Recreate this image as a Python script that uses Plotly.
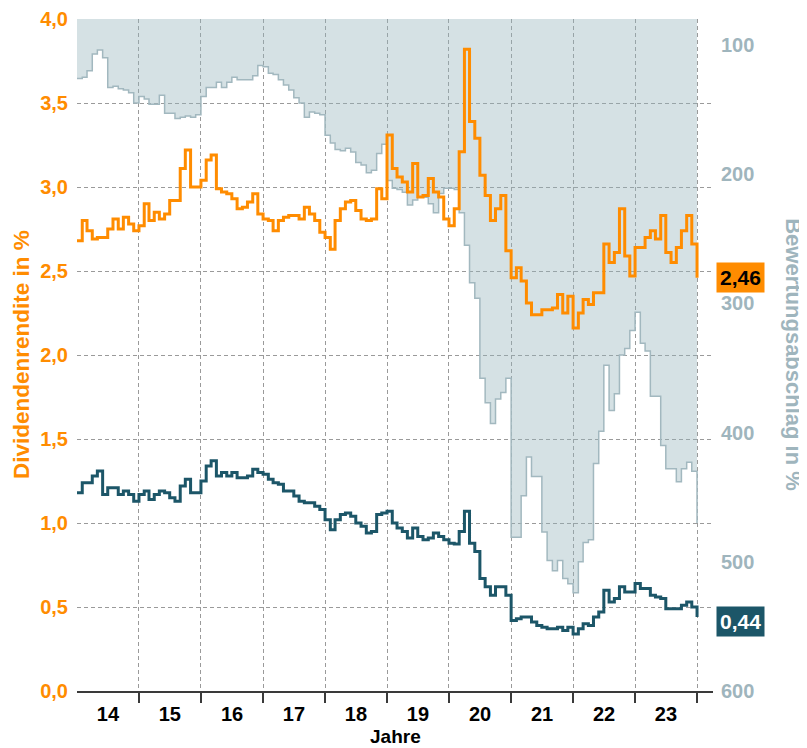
import plotly.graph_objects as go
import pandas as pd

# ---------------- data (monthly, Jan 2014 .. Jan 2024) ----------------
start_month = "2014-01-01"
n_months = 121

dividend_yield_orange = [
    2.68, 2.80, 2.74, 2.69, 2.70, 2.70, 2.75, 2.81, 2.75, 2.82, 2.78, 2.74,
    2.77, 2.90, 2.80, 2.85, 2.81, 2.84, 2.92, 2.92, 3.11, 3.22, 3.00, 3.00,
    3.04, 3.16, 3.19, 2.99, 2.97, 2.96, 2.93, 2.87, 2.88, 2.91, 2.96, 2.84,
    2.81, 2.80, 2.74, 2.80, 2.82, 2.83, 2.83, 2.81, 2.88, 2.84, 2.80, 2.73,
    2.70, 2.63, 2.80, 2.87, 2.91, 2.92, 2.86, 2.81, 2.80, 2.81, 2.99, 2.93,
    3.31, 3.11, 3.06, 3.03, 2.97, 3.14, 2.94, 2.95, 3.05, 2.97, 2.94, 2.81,
    2.77, 2.87, 3.21, 3.82, 3.39, 3.29, 3.07, 2.95, 2.80, 2.87, 2.95, 2.62,
    2.46, 2.52, 2.44, 2.31, 2.24, 2.24, 2.27, 2.27, 2.28, 2.36, 2.25, 2.35,
    2.16, 2.25, 2.33, 2.30, 2.37, 2.37, 2.66, 2.55, 2.61, 2.87, 2.59, 2.47,
    2.64, 2.64, 2.70, 2.74, 2.69, 2.83, 2.61, 2.55, 2.64, 2.74, 2.83, 2.66,
    2.46,
]

dividend_yield_teal = [
    1.18, 1.24, 1.24, 1.28, 1.31, 1.17, 1.21, 1.21, 1.17, 1.19, 1.17, 1.13,
    1.17, 1.19, 1.14, 1.17, 1.19, 1.18, 1.15, 1.13, 1.22, 1.26, 1.18, 1.18,
    1.25, 1.34, 1.37, 1.28, 1.30, 1.28, 1.30, 1.27, 1.27, 1.28, 1.32, 1.30,
    1.29, 1.26, 1.24, 1.23, 1.19, 1.19, 1.16, 1.13, 1.12, 1.12, 1.10, 1.08,
    1.02, 0.96, 1.02, 1.05, 1.06, 1.04, 1.00, 0.98, 0.94, 0.95, 1.05, 1.06,
    1.07, 1.00, 0.97, 0.95, 0.91, 0.97, 0.92, 0.90, 0.91, 0.94, 0.92, 0.90,
    0.88, 0.875, 0.95, 1.07, 0.88, 0.83, 0.67, 0.62, 0.57, 0.62, 0.62, 0.57,
    0.42, 0.43, 0.44, 0.44, 0.41, 0.39, 0.38, 0.37, 0.37, 0.38, 0.36, 0.38,
    0.34, 0.37, 0.40, 0.39, 0.44, 0.47, 0.60, 0.53, 0.55, 0.62, 0.59, 0.59,
    0.64, 0.61, 0.61, 0.57, 0.56, 0.55, 0.49, 0.49, 0.49, 0.51, 0.53, 0.50,
    0.44,
]

valuation_discount = [
    126, 125, 120, 107, 104, 110, 133, 132, 134, 135, 137, 145,
    140, 142, 146, 146, 139, 153, 153, 157, 156, 155, 156, 154,
    140, 133, 133, 129, 133, 129, 125, 127, 127, 127, 124, 116,
    117, 122, 123, 127, 131, 135, 141, 145, 156, 152, 153, 154,
    170, 176, 181, 182, 180, 183, 191, 193, 199, 197, 184, 177,
    205, 211, 212, 214, 224, 220, 218, 218, 223, 230, 215, 211,
    211, 212, 230, 255, 284, 296, 358, 377, 393, 374, 369, 358,
    481, 481, 449, 419, 434, 434, 477, 499, 507, 499, 513, 517,
    524, 500, 485, 483, 424, 399, 348, 383, 370, 340, 335, 321,
    307, 331, 337, 372, 372, 410, 428, 428, 438, 428, 423, 430,
    470,
]

year_labels = ["14", "15", "16", "17", "18", "19", "20", "21", "22", "23"]
left_ticks = [0.0, 0.5, 1.0, 1.5, 2.0, 2.5, 3.0, 3.5, 4.0]
right_ticks = [100, 200, 300, 400, 500, 600]

# ---------------- styling ----------------
ORANGE = "#ff8c00"
TEAL = "#1c5668"
GREY_LINE = "#a2b8bf"
GREY_FILL = "rgba(150,180,188,0.40)"
GREY_TEXT = "#9fb5bd"
GRID = "#9a9a9a"
FONT = "Liberation Sans, Arial, sans-serif"

months = pd.date_range(start_month, periods=n_months, freq="MS")
first_year = int(start_month[:4])
label_pos = [pd.Timestamp(f"{first_year + i}-07-02") for i in range(len(year_labels))]
year_bounds = [pd.Timestamp(f"{first_year + i}-01-01") for i in range(1, len(year_labels) + 1)]

fig = go.Figure()

# Valuation discount: grey filled area (main y axis, right side, reversed)
fig.add_trace(go.Scatter(
    x=months, y=valuation_discount, mode="lines",
    line=dict(color=GREY_LINE, width=1.5, shape="hv"),
    fill="tozeroy", fillcolor=GREY_FILL,
    yaxis="y", hoverinfo="skip", showlegend=False,
))

# Dividend yields (overlay axis, left side)
fig.add_trace(go.Scatter(
    x=months, y=dividend_yield_orange, mode="lines",
    line=dict(color=ORANGE, width=3, shape="hv"),
    yaxis="y2", showlegend=False,
))
fig.add_trace(go.Scatter(
    x=months, y=dividend_yield_teal, mode="lines",
    line=dict(color=TEAL, width=3, shape="hv"),
    yaxis="y2", showlegend=False,
))

fig.update_layout(
    width=799, height=740,
    margin=dict(l=69, r=94, t=11, b=57, autoexpand=False),
    paper_bgcolor="white", plot_bgcolor="white",
    separators=",.",
    font=dict(family=FONT, size=19, color="black"),
    showlegend=False,
    xaxis=dict(
        type="date",
        range=[pd.Timestamp(start_month), pd.Timestamp("2024-04-04")],
        tickmode="array", tickvals=label_pos, ticktext=year_labels,
        ticks="", showgrid=False, zeroline=False,
        showline=True, linecolor="#3a3a3a", linewidth=2,
        tickfont=dict(family=FONT, size=20, color="black", weight="bold"),
        ticklabelstandoff=4,
        minor=dict(
            tickmode="array", tickvals=year_bounds,
            ticks="outside", ticklen=10, tickwidth=2, tickcolor="#3a3a3a",
            showgrid=True, gridcolor=GRID, gridwidth=1, griddash="4px,3px",
        ),
    ),
    yaxis=dict(
        side="right", range=[600, 80],
        tickmode="array", tickvals=right_ticks,
        ticks="", showgrid=False, zeroline=False, showline=False,
        tickfont=dict(family=FONT, size=20, color=GREY_TEXT, weight="bold"),
        ticklabelstandoff=7,
    ),
    yaxis2=dict(
        side="left", overlaying="y", range=[0, 4.0],
        tickmode="array", tickvals=left_ticks, tickformat=".1f",
        ticks="", zeroline=False, showline=False,
        showgrid=True, gridcolor=GRID, gridwidth=1, griddash="4px,3px",
        tickfont=dict(family=FONT, size=20, color=ORANGE, weight="bold"),
        ticklabelstandoff=8,
    ),
    annotations=[
        dict(text="Dividendenrendite in %", xref="paper", yref="paper",
             x=-0.088, y=0.5, xanchor="center", yanchor="middle", textangle=-90,
             showarrow=False, font=dict(family=FONT, size=22.5, color=ORANGE, weight="bold")),
        dict(text="Bewertungsabschlag in %", xref="paper", yref="paper",
             x=1.127, y=0.5, xanchor="center", yanchor="middle", textangle=90,
             showarrow=False, font=dict(family=FONT, size=22, color=GREY_TEXT, weight="bold")),
        dict(text="Jahre", xref="paper", yref="paper",
             x=0.5, y=-0.068, xanchor="center", yanchor="middle",
             showarrow=False, font=dict(family=FONT, size=19, color="black", weight="bold")),
        dict(text=f"{dividend_yield_orange[-1]:.2f}".replace(".", ","),
             xref="paper", yref="y2", x=1.044, y=dividend_yield_orange[-1],
             xanchor="center", yanchor="middle", showarrow=False,
             bgcolor=ORANGE, borderpad=3,
             font=dict(family=FONT, size=21, color="black", weight="bold")),
        dict(text=f"{dividend_yield_teal[-1]:.2f}".replace(".", ","),
             xref="paper", yref="y2", x=1.044, y=dividend_yield_teal[-1], yshift=-4,
             xanchor="center", yanchor="middle", showarrow=False,
             bgcolor=TEAL, borderpad=3,
             font=dict(family=FONT, size=21, color="white", weight="bold")),
    ],
)

fig.write_html("out.html")
